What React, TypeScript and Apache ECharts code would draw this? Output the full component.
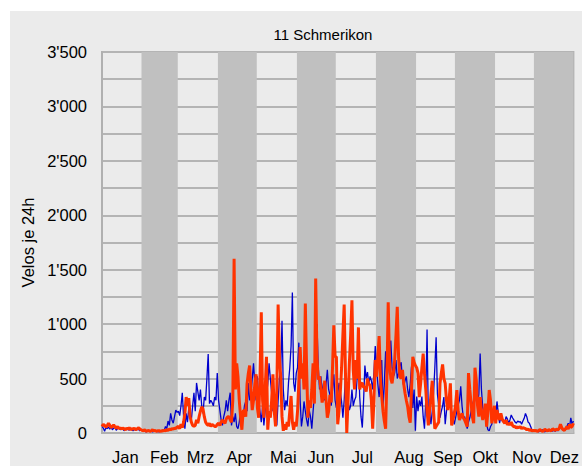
import React, { useEffect, useRef } from "react";
import * as echarts from "echarts";

const monthNames = ["Jan", "Feb", "Mrz", "Apr", "Mai", "Jun", "Jul", "Aug", "Sep", "Okt", "Nov", "Dez"];
const monthDays = [31, 28, 31, 30, 31, 30, 31, 31, 30, 31, 30, 31];
const labelDays = [18, 48, 76, 106, 140, 169, 201, 237, 267, 296, 328, 357];
const title = "11 Schmerikon";
const yName = "Velos je 24h";

// daily values, one row per month
const blueRows: number[][] = [
  [60, 45, 15, 50, 40, 55, 35, 60, 30, 45, 50, 25, 40, 55, 30, 35, 45, 20, 40, 30, 35, 25, 45, 30, 20, 35, 25, 30, 40, 20, 30],
  [25, 15, 20, 10, 15, 20, 12, 18, 10, 15, 20, 12, 15, 10, 18, 12, 30, 20, 60, 40, 110, 70, 180, 120, 90, 150, 210, 190],
  [200, 160, 250, 370, 150, 40, 180, 100, 230, 150, 120, 250, 370, 200, 460, 380, 300, 400, 250, 180, 330, 300, 500, 725, 270, 300, 280, 250, 330, 300, 550],
  [300, 210, 120, 70, 150, 200, 300, 200, 300, 370, 70, 150, 100, 180, 60, 40, 100, 200, 120, 150, 250, 290, 200, 460, 300, 350, 500, 640, 450, 300],
  [520, 300, 200, 100, 250, 70, 200, 350, 450, 640, 500, 370, 200, 300, 100, 70, 300, 500, 600, 1030, 400, 210, 300, 250, 460, 600, 800, 1290, 460, 380, 550],
  [600, 830, 300, 60, 150, 290, 200, 120, 60, 210, 150, 40, 200, 350, 500, 1000, 600, 400, 520, 350, 460, 300, 450, 580, 400, 350, 250, 400, 540, 300],
  [230, 350, 460, 380, 290, 140, 300, 520, 400, 300, 210, 250, 400, 250, 300, 330, 500, 720, 330, 150, 50, 300, 620, 500, 560, 450, 520, 480, 400, 560, 800],
  [600, 450, 330, 500, 670, 230, 450, 750, 480, 600, 700, 850, 600, 520, 550, 670, 500, 550, 610, 650, 500, 430, 480, 520, 400, 330, 450, 610, 230, 400, 20],
  [334, 200, 300, 250, 334, 150, 40, 300, 950, 140, 200, 80, 200, 360, 600, 880, 360, 250, 140, 200, 250, 330, 80, 200, 300, 360, 250, 200, 150, 80],
  [140, 200, 260, 300, 430, 250, 140, 150, 100, 40, 100, 140, 200, 260, 300, 395, 300, 250, 360, 730, 400, 230, 180, 140, 80, 30, 20, 60, 80, 180, 120],
  [150, 290, 180, 90, 150, 110, 120, 90, 150, 130, 90, 120, 165, 140, 120, 100, 90, 110, 100, 105, 80, 110, 135, 180, 150, 100, 90, 60, 30, 15],
  [20, 15, 25, 10, 20, 15, 30, 20, 10, 25, 15, 20, 30, 15, 20, 25, 15, 30, 20, 40, 60, 40, 30, 25, 30, 60, 90, 50, 140, 80, 110],
];

const orangeRows: number[][] = [
  [60, 80, 70, 55, 65, 90, 70, 50, 60, 75, 55, 45, 60, 40, 50, 35, 45, 40, 30, 45, 35, 50, 30, 40, 35, 45, 30, 35, 50, 40, 30],
  [25, 20, 30, 15, 20, 25, 15, 20, 30, 18, 25, 15, 20, 22, 15, 20, 18, 25, 20, 30, 25, 35, 30, 40, 35, 45, 40, 55],
  [60, 40, 80, 50, 100, 180, 330, 250, 320, 150, 100, 70, 60, 70, 120, 90, 150, 200, 240, 220, 150, 100, 80, 70, 90, 60, 80, 70, 60, 60, 80],
  [90, 70, 100, 120, 100, 90, 130, 150, 150, 120, 100, 300, 1600, 400, 640, 520, 300, 150, 30, 200, 210, 150, 450, 550, 620, 400, 210, 300, 450, 540],
  [230, 140, 500, 1110, 300, 140, 400, 700, 30, 200, 140, 300, 540, 200, 60, 400, 1180, 700, 520, 150, 20, 80, 30, 100, 60, 200, 340, 100, 30, 100, 60],
  [200, 460, 790, 500, 640, 400, 1190, 600, 140, 300, 230, 400, 640, 270, 1420, 700, 490, 520, 400, 280, 350, 480, 300, 140, 200, 350, 280, 600, 990, 700],
  [700, 80, 200, 370, 600, 900, 1180, 550, 0, 300, 640, 900, 1220, 580, 400, 670, 500, 970, 400, 450, 460, 420, 420, 380, 500, 450, 440, 300, 40, 300, 670],
  [517, 700, 890, 500, 340, 200, 110, 40, 500, 1200, 670, 500, 456, 550, 670, 900, 1160, 700, 517, 500, 580, 450, 365, 300, 245, 150, 95, 400, 700, 650, 620],
  [600, 550, 330, 450, 600, 730, 550, 400, 200, 70, 210, 350, 480, 200, 40, 60, 80, 100, 456, 550, 630, 500, 456, 300, 210, 300, 456, 70, 120, 180],
  [250, 395, 200, 120, 150, 180, 140, 120, 90, 58, 550, 400, 270, 150, 89, 600, 490, 250, 150, 330, 200, 120, 180, 270, 58, 200, 395, 300, 89, 150, 250],
  [89, 210, 150, 120, 180, 130, 105, 90, 120, 75, 90, 75, 100, 70, 58, 60, 45, 55, 50, 58, 40, 50, 45, 40, 30, 35, 25, 30, 20, 25],
  [20, 25, 15, 20, 30, 25, 15, 20, 35, 25, 20, 30, 25, 20, 40, 30, 25, 35, 30, 40, 80, 50, 30, 25, 40, 60, 35, 80, 50, 60, 90],
];

const blue = blueRows.flat();
const orange = orangeRows.flat();

const FONT = "'Liberation Sans', Arial, sans-serif";

export default function App() {
  const ref = useRef<HTMLDivElement>(null);
  useEffect(() => {
    if (!ref.current) return;
    const chart = echarts.init(ref.current, undefined, { renderer: "svg" });
    const nDays = monthDays.reduce((a, b) => a + b, 0);
    const starts: number[] = [];
    let acc = 0;
    monthDays.forEach((d) => {
      starts.push(acc);
      acc += d;
    });
    const bands: any[] = [];
    for (let m = 1; m < 12; m += 2) {
      const a = Math.max(0, starts[m] - 0.5);
      const b = Math.min(nDays - 1, starts[m] + monthDays[m] - 0.5);
      bands.push([{ xAxis: a }, { xAxis: b }]);
    }
    const fmt = (v: number) => {
      if (v % 500 !== 0) return "";
      const s = String(v);
      return s.length > 3 ? s.slice(0, s.length - 3) + "'" + s.slice(-3) : s;
    };
    chart.setOption({
      animation: false,
      backgroundColor: "#ffffff",
      textStyle: { fontFamily: FONT },
      graphic: [
        {
          type: "rect",
          z: -10,
          shape: { x: 10, y: 11, width: 572, height: 455 },
          style: { fill: "#ebebeb" },
          silent: true,
        },
      ],
      title: {
        text: title,
        left: 318,
        top: 22,
        textAlign: "center",
        textStyle: { fontSize: 15, fontWeight: "normal", color: "#000", fontFamily: FONT },
      },
      grid: {
        left: 102,
        top: 52,
        right: 7,
        bottom: 33,
        show: true,
        borderColor: "#b0b0b0",
        borderWidth: 2,
        backgroundColor: "transparent",
      },
      xAxis: {
        type: "value",
        min: 0,
        max: nDays - 1,
        axisLine: { show: true, lineStyle: { color: "#b0b0b0", width: 2 } },
        axisTick: { show: false },
        splitLine: { show: false },
        axisLabel: {
          customValues: labelDays,
          formatter: (v: number) => monthNames[labelDays.indexOf(v)] ?? "",
          fontSize: 16.5,
          color: "#000",
          fontFamily: FONT,
          margin: 15,
        },
      },
      yAxis: {
        type: "value",
        min: 0,
        max: 3500,
        interval: 250,
        name: yName,
        nameLocation: "middle",
        nameGap: 60,
        nameTextStyle: { fontSize: 16.5, color: "#000", fontFamily: FONT },
        axisLine: { show: true, lineStyle: { color: "#b0b0b0", width: 2 } },
        axisTick: { show: false },
        splitLine: { show: true, lineStyle: { color: "#b4b4b4", width: 2 } },
        axisLabel: { formatter: fmt, fontSize: 16.5, color: "#000", fontFamily: FONT, margin: 15 },
      },
      series: [
        {
          name: "A",
          type: "line",
          data: blue.map((v, i) => [i, v]),
          showSymbol: false,
          lineStyle: { color: "#0000cc", width: 1.3 },
          itemStyle: { color: "#0000cc" },
          markArea: {
            silent: true,
            itemStyle: { color: "#c0c0c0" },
            data: bands,
          },
          z: 2,
        },
        {
          name: "B",
          type: "line",
          data: orange.map((v, i) => [i, v]),
          showSymbol: false,
          lineStyle: { color: "#ff3300", width: 3 },
          itemStyle: { color: "#ff3300" },
          z: 3,
        },
      ],
    });
    return () => chart.dispose();
  }, []);
  return (
    <div
      ref={ref}
      style={{ position: "fixed", left: 0, top: 0, width: 582, height: 466 }}
    />
  );
}
